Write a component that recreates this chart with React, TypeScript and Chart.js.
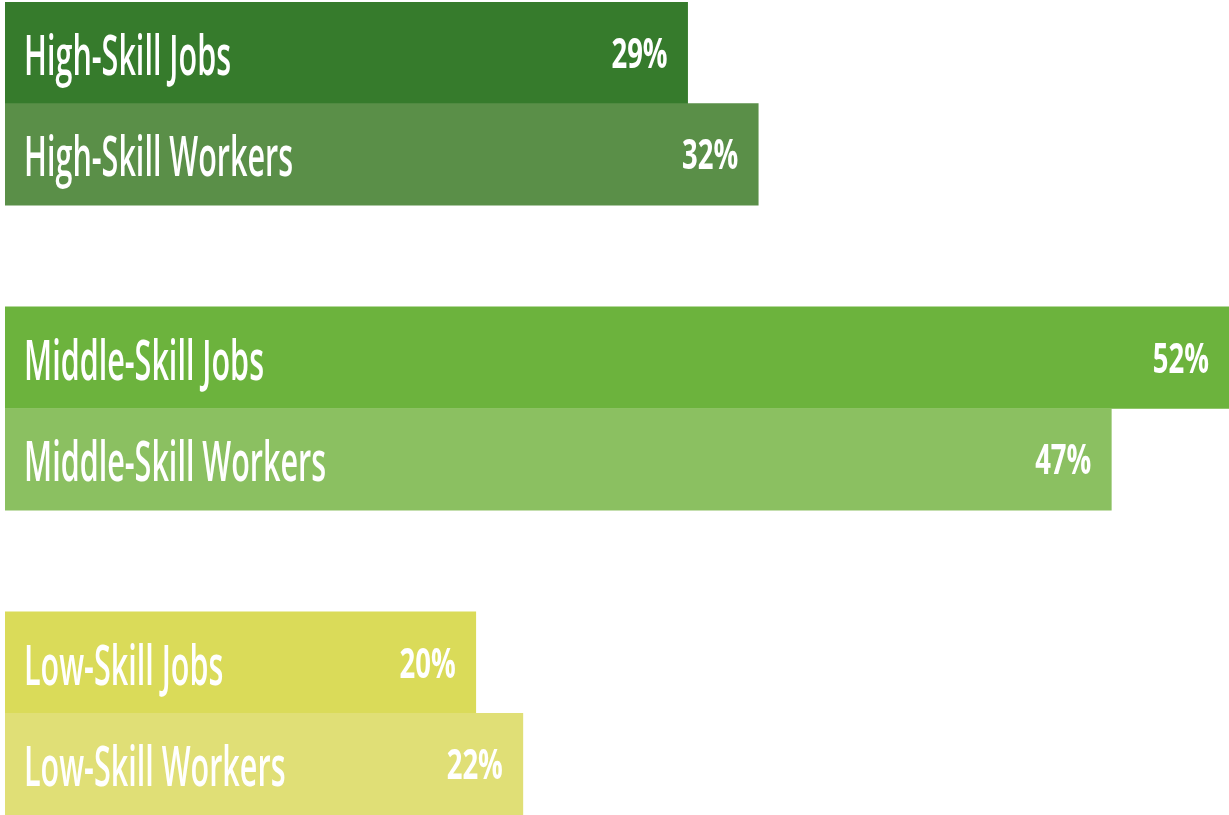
import React, { useEffect, useRef } from "react";
import { Chart, registerables } from "chart.js";

Chart.register(...registerables);

// Categories (empty slots act as spacers between groups)
const categories = [
  "High-Skill Jobs",
  "High-Skill Workers",
  "",
  "Middle-Skill Jobs",
  "Middle-Skill Workers",
  "",
  "Low-Skill Jobs",
  "Low-Skill Workers",
];
const values: (number | null)[] = [29, 32, null, 52, 47, null, 20, 22];
const valueLabels = ["29%", "32%", "", "52%", "47%", "", "20%", "22%"];
const barColors = [
  "#367B2C",
  "#5A8F48",
  "rgba(0,0,0,0)",
  "#6CB33D",
  "#8BC061",
  "rgba(0,0,0,0)",
  "#DADB59",
  "#E0DF76",
];

const FONT_FAMILY = "'Open Sans', 'DejaVu Sans', sans-serif";

const labelPlugin = {
  id: "barLabels",
  afterDatasetsDraw(chart: any) {
    const ctx = chart.ctx as CanvasRenderingContext2D;
    const meta = chart.getDatasetMeta(0);
    ctx.save();
    // horizontal squeeze to mimic condensed typeface
    ctx.font = `600 56px ${FONT_FAMILY}`;
    const refW = ctx.measureText("High-Skill Jobs").width;
    const sx = 207 / refW;
    meta.data.forEach((bar: any, i: number) => {
      if (values[i] == null) return;
      const props = bar.getProps(["x", "y", "base", "height"], true);
      const cy = props.y;
      const left = props.base;
      const right = props.x;
      ctx.fillStyle = "#FFFFFF";
      // category label
      ctx.save();
      ctx.font = `600 56px ${FONT_FAMILY}`;
      ctx.textBaseline = "alphabetic";
      ctx.textAlign = "left";
      ctx.translate(left + 19, cy + 22);
      ctx.scale(sx, 1);
      ctx.fillText(categories[i], 0, 0);
      ctx.restore();
      // value label
      ctx.save();
      ctx.font = `700 42px ${FONT_FAMILY}`;
      ctx.textBaseline = "alphabetic";
      ctx.textAlign = "right";
      ctx.translate(right - 20, cy + 15);
      ctx.scale(sx * 1.2, 1);
      ctx.fillText(valueLabels[i], 0, 0);
      ctx.restore();
    });
    ctx.restore();
  },
};

export default function App() {
  const ref = useRef<HTMLCanvasElement | null>(null);
  useEffect(() => {
    if (!ref.current) return;
    const chart = new Chart(ref.current, {
      type: "bar",
      data: {
        labels: categories,
        datasets: [
          {
            data: values,
            backgroundColor: barColors,
            borderWidth: 0,
            barPercentage: 1,
            categoryPercentage: 1,
          },
        ],
      },
      options: {
        indexAxis: "y",
        responsive: false,
        animation: false,
        layout: { padding: { left: 5, right: 0, top: 2, bottom: 0 } },
        plugins: {
          legend: { display: false },
          tooltip: { enabled: false },
        },
        scales: {
          x: { display: false, min: 0, max: 52 },
          y: { display: false },
        },
      },
      plugins: [labelPlugin],
    });
    return () => chart.destroy();
  }, []);
  return (
    <div style={{ position: "fixed", left: 0, top: 0, width: 1229, height: 815, background: "#fff" }}>
      <canvas ref={ref} width={1229} height={815} />
    </div>
  );
}
